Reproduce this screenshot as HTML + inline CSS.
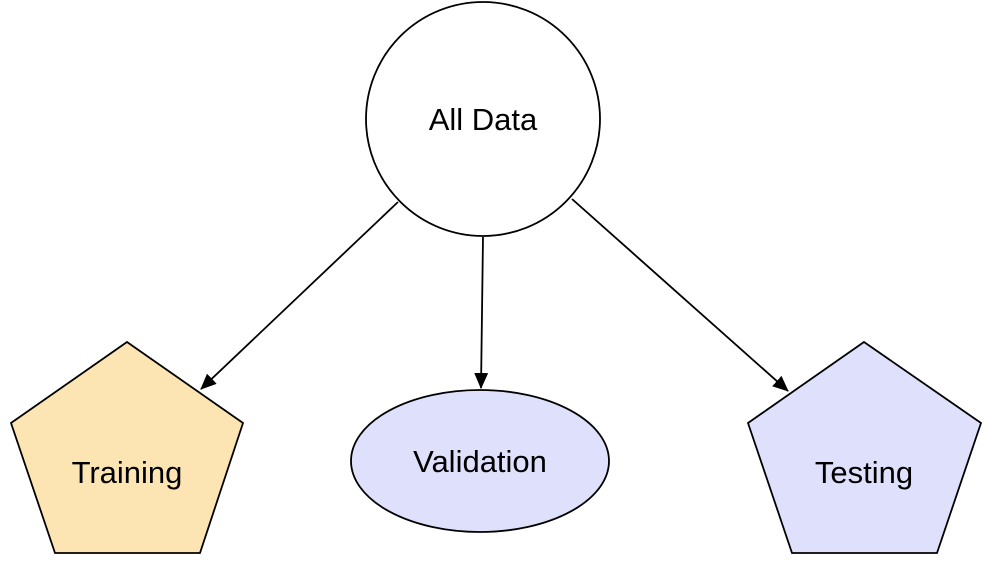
<!DOCTYPE html>
<html><head><meta charset="utf-8"><style>
html,body{margin:0;padding:0;background:#fff;}
svg{display:block;}
text{font-family:"Liberation Sans",sans-serif;font-size:31px;fill:#000;}
</style></head><body>
<svg width="995" height="583" viewBox="0 0 995 583" xmlns="http://www.w3.org/2000/svg">
<defs>
<marker id="b" markerWidth="16" markerHeight="14" refX="15" refY="7" orient="auto" markerUnits="userSpaceOnUse" viewBox="0 0 16 14">
<path d="M0,0 L16,7 L0,14 Z" fill="#000"/>
</marker>
</defs>
<g stroke="#000" stroke-width="1.8">
<circle cx="483" cy="119" r="117" fill="#fff"/>
<polygon points="127,342 243,423 200,553 55,553 11,423" fill="#fde5b3"/>
<ellipse cx="480" cy="461" rx="129" ry="71" fill="#dfe0fb"/>
<polygon points="864,342 981,423 937,553 792,553 748,423" fill="#dfe0fb"/>
<line x1="398" y1="202" x2="201" y2="389" marker-end="url(#b)"/>
<line x1="483" y1="237" x2="481" y2="388" marker-end="url(#b)"/>
<line x1="572" y1="199" x2="788" y2="391" marker-end="url(#b)"/>
</g>
<text x="483" y="130" text-anchor="middle">All Data</text>
<text x="127" y="483" text-anchor="middle">Training</text>
<text x="480" y="472" text-anchor="middle">Validation</text>
<text x="864" y="483" text-anchor="middle">Testing</text>
</svg>
</body></html>
